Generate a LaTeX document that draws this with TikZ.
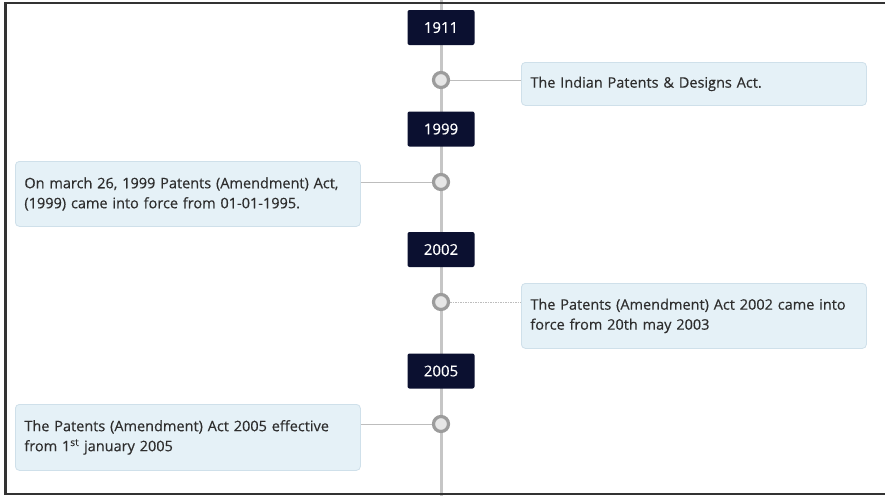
\documentclass[tikz,border=0pt]{standalone}
\usepackage{fontspec}
\setmainfont{Open Sans}
\definecolor{navy}{HTML}{0B1030}
\definecolor{boxfill}{HTML}{E5F1F7}
\definecolor{boxline}{HTML}{CFE0EA}
\definecolor{ringgray}{HTML}{9C9C9C}
\definecolor{dotfill}{HTML}{E6E6E6}
\definecolor{axisgray}{HTML}{C6C6C6}
\definecolor{conngray}{HTML}{BDBDBD}
\definecolor{textgray}{HTML}{2E2E2E}
\definecolor{framec}{HTML}{333333}
\begin{document}
\begin{tikzpicture}[x=1pt,y=-1pt,
  year/.style={fill=navy, text=white, minimum width=67pt, minimum height=35pt,
    rounded corners=2pt, inner sep=0pt, font=\fontsize{15}{17}\selectfont\addfontfeature{FakeBold=0.4}},
  dot/.style={circle, draw=ringgray, line width=3.2pt, fill=dotfill,
    minimum size=15pt, inner sep=0pt},
  evbox/.style={fill=boxfill, draw=boxline, line width=0.8pt, rounded corners=4pt,
    minimum width=345pt, text width=327pt, inner xsep=9pt, align=left,
    anchor=north west, text=textgray,
    font=\fontsize{14.5}{20}\selectfont\addfontfeature{FakeBold=0.4}},
  conn/.style={draw=conngray, line width=1pt},
  axis/.style={draw=axisgray, line width=3pt}
]
\useasboundingbox (0,0) rectangle (885,496);
\fill[white] (0,0) rectangle (885,496);
% axis
\coordinate (top) at (441,0);
\coordinate (bot) at (441,496);
\draw[axis] (top) -- (bot);
% event boxes
\node[evbox, minimum height=43pt] (e1) at (521,62) {The Indian Patents \& Designs Act.};
\node[evbox, minimum height=65pt] (e2) at (15,161) {On march 26, 1999 Patents (Amendment) Act,\\(1999) came into force from 01-01-1995.};
\node[evbox, minimum height=65pt] (e3) at (521,283) {The Patents (Amendment) Act 2002 came into\\force from 20th may 2003};
\node[evbox, minimum height=66pt] (e4) at (15,404) {The Patents (Amendment) Act 2005 effective\\from 1\textsuperscript{st} january 2005};
% years
\node[year] (y1) at (441,27.5) {1911};
\node[year] (y2) at (441,129) {1999};
\node[year] (y3) at (441,249.5) {2002};
\node[year] (y4) at (441,371) {2005};
% dots
\node[dot] (c1) at (441,80) {};
\node[dot] (c2) at (441,182) {};
\node[dot] (c3) at (441,302) {};
\node[dot] (c4) at (441,424) {};
% connectors
\draw[conn] (c1.east) -- (c1.east -| e1.west);
\draw[conn] (c2.west) -- (c2.west -| e2.east);
\draw[conn, dash pattern=on 1.5pt off 1pt] (c3.east) -- (c3.east -| e3.west);
\draw[conn] (c4.west) -- (c4.west -| e4.east);
% frame
\draw[framec, line width=2.5pt] (885,3) -- (5.5,3) -- (5.5,494) -- (885,494);
\end{tikzpicture}
\end{document}
